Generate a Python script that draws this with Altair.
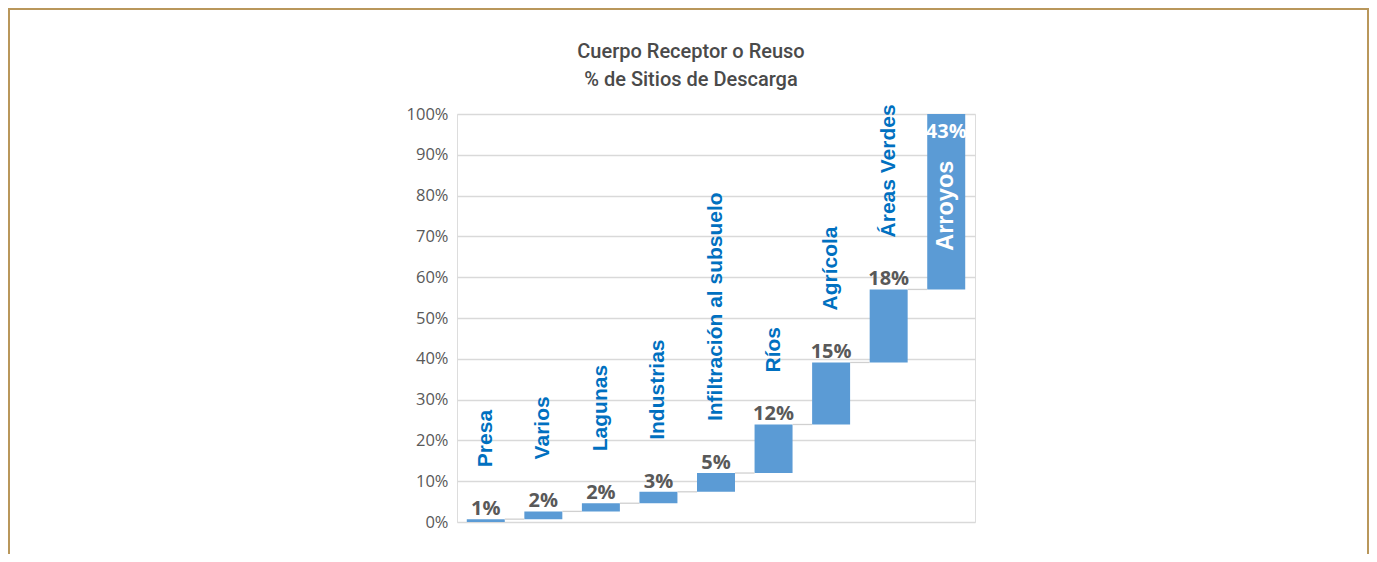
import altair as alt
import pandas as pd

categorias = ["Presa", "Varios", "Lagunas", "Industrias", "Infiltración al subsuelo",
              "Ríos", "Agrícola", "Áreas Verdes", "Arroyos"]
porcentajes = [0.7, 1.9, 2.0, 2.8, 4.6, 11.9, 15.2, 17.9, 43.0]
ticks_y = [0, 10, 20, 30, 40, 50, 60, 70, 80, 90, 100]
titulo = ["Cuerpo Receptor o Reuso", "% de Sitios de Descarga"]

rows = []
acum = 0.0
n = len(categorias)
for i, (c, v) in enumerate(zip(categorias, porcentajes)):
    rows.append({
        "cat": c, "val": v, "idx": i,
        "start": acum, "end": acum + v,
        "mid": acum + v / 2,
        "lbl": f"{round(v):d}%",
        "last": i == n - 1,
    })
    acum += v
df = pd.DataFrame(rows)

HALF = 0.33
base = alt.Chart(df).transform_calculate(
    x_lo=f"datum.idx - {HALF}",
    x_hi=f"datum.idx + {HALF}",
    x_next=f"datum.idx + 1 - {HALF}",
)

xs = alt.Scale(domain=[-0.5, n - 0.5], nice=False, zero=False)
ys = alt.Scale(domain=[0, 100], nice=False)

grid_axis = alt.Axis(values=ticks_y, labelExpr="datum.value + '%'", ticks=False, domain=False,
                     grid=True, gridColor="#D9D9D9", gridWidth=1.3, labelFont="Open Sans",
                     labelFontSize=16.5, labelColor="#595959", labelPadding=9, title=None)

bars = base.mark_bar(color="#5B9BD5").encode(
    x=alt.X("x_lo:Q", scale=xs, axis=None),
    x2="x_hi:Q",
    y=alt.Y("start:Q", scale=ys, axis=grid_axis),
    y2="end:Q",
)

connectors = base.transform_filter("!datum.last").mark_rule(color="#D0D0D0", strokeWidth=1.3).encode(
    x=alt.X("x_hi:Q", scale=xs, axis=None),
    x2="x_next:Q",
    y=alt.Y("end:Q", scale=ys),
)

val_labels = base.transform_filter("!datum.last").mark_text(
    font="Open Sans", fontSize=20, fontWeight=700, color="#595959",
    baseline="alphabetic", align="center", dy=-4,
).encode(
    x=alt.X("idx:Q", scale=xs, axis=None),
    y=alt.Y("end:Q", scale=ys),
    text="lbl:N",
)

val_last = base.transform_filter("datum.last").mark_text(
    font="Open Sans", fontSize=20, fontWeight=700, color="white",
    baseline="alphabetic", align="center", dy=24,
).encode(
    x=alt.X("idx:Q", scale=xs, axis=None),
    y=alt.Y("end:Q", scale=ys),
    text="lbl:N",
)

cat_labels = base.transform_filter("!datum.last").mark_text(
    font="Liberation Sans", fontSize=21, fontWeight="bold", color="#0070C0",
    angle=270, align="left", baseline="middle", dx=52,
).encode(
    x=alt.X("idx:Q", scale=xs, axis=None),
    y=alt.Y("end:Q", scale=ys),
    text="cat:N",
)

cat_last = base.transform_filter("datum.last").mark_text(
    font="Liberation Sans", fontSize=23.5, fontWeight="bold", color="white",
    angle=270, align="center", baseline="middle", dx=-4,
).encode(
    x=alt.X("idx:Q", scale=xs, axis=None),
    y=alt.Y("mid:Q", scale=ys),
    text="cat:N",
)

GOLD = "#B9975B"
border_top = alt.Chart(df).mark_rule(color=GOLD, strokeWidth=2).encode(
    x=alt.value(-449), x2=alt.value(912), y=alt.value(-105))
border_left = alt.Chart(df).mark_rule(color=GOLD, strokeWidth=2).encode(
    x=alt.value(-448), y=alt.value(-106), y2=alt.value(440))
border_right = alt.Chart(df).mark_rule(color=GOLD, strokeWidth=2).encode(
    x=alt.value(911), y=alt.value(-106), y2=alt.value(440))

chart = alt.layer(
    bars, connectors, val_labels, val_last, cat_labels, cat_last,
    border_top, border_left, border_right,
).properties(
    width=518, height=408,
    padding={"left": 449, "top": 106, "right": 394, "bottom": 32},
    autosize=alt.AutoSizeParams(type="none"),
    title=alt.TitleParams(
        text=titulo, anchor="middle", dx=-25, offset=-83,
        font="Roboto", fontSize=20,
        fontWeight=500, color="#4A4A4A", lineHeight=28,
    ),
).configure_view(stroke=None).configure(background="white")

chart.save("out.html", embed_options={"renderer": "svg", "actions": False})
